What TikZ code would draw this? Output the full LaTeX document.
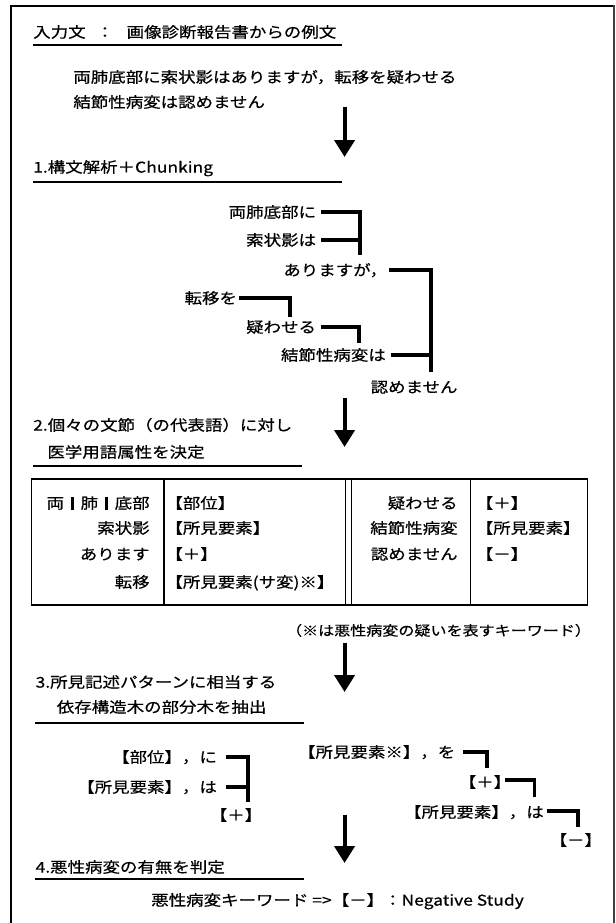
\documentclass[tikz,border=0pt]{standalone}
\usepackage{fontspec}
\newfontfamily\jp[FakeStretch=1.18,FakeBold=0.6]{Noto Sans CJK JP}
\usetikzlibrary{arrows.meta,calc}
\newcommand{\sepbar}{\hspace{7pt}\rule[-1.5pt]{2.6pt}{13.5pt}\hspace{7pt}}
\begin{document}
\begin{tikzpicture}[x=1.18pt,y=-1pt,
  txt/.style={font=\jp\fontsize{14.8}{16}\selectfont, inner sep=0pt, text height=13pt, text depth=1.8pt},
  tree/.style={line width=3.8pt},
  rulel/.style={line width=1.3pt},
  gridl/.style={line width=1.2pt},
  flow/.style={line width=4pt, -{Triangle[width=20pt,length=17pt]}}]
\useasboundingbox (0,0) rectangle (522.03,923);
% frame
\draw[line width=1.2pt] (9.3,926) -- (9.3,6) -- (520.3,6);
\draw[line width=2.2pt, black!75] (520.3,5.4) -- (520.3,926);

% input sentence
\node[txt, anchor=west] (h0) at (28,32) {入力文\hspace{10.6pt}：\hspace{13pt}画像診断報告書からの例文};
\draw[rulel] (28,45) -- (290,45);
\node[txt, anchor=west] (s1) at (62,77) {両肺底部に索状影はありますが，転移を疑わせる};
\node[txt, anchor=west] (s2) at (62,102) {結節性病変は認めません};
\coordinate (a1s) at (292,107); \coordinate (a1e) at (292,157);
\draw[flow] (a1s) -- (a1e);

% step 1
\node[txt, anchor=west] (h1) at (28,167) {1.構文解析＋Chunking};
\draw[rulel] (28,182) -- (290,182);
\node[txt, anchor=east] (n11) at (268,212) {両肺底部に};
\node[txt, anchor=east] (n12) at (268,240) {索状影は};
\node[txt, anchor=west] (n13) at (240,270) {ありますが，};
\node[txt, anchor=east] (n14) at (201,298) {転移を};
\node[txt, anchor=east] (n15) at (268,327) {疑わせる};
\node[txt, anchor=west] (n16) at (238,355) {結節性病変は};
\node[txt, anchor=west] (n17) at (314,387) {認めません};
\coordinate (j1) at (305,255);
\coordinate (j2) at (365,372);
\coordinate (j3) at (246,317);
\coordinate (j4) at (304,343);
\draw[tree] ([xshift=5pt]n11.east) -| (j1);
\draw[tree] ([xshift=5pt]n12.east) -- (n12.east -| j1);
\draw[tree] ([xshift=2pt]n13.east) -| (j2);
\draw[tree] ([xshift=5pt]n16.east) -- (n16.east -| j2);
\draw[tree] ([xshift=2pt]n14.east) -| (j3);
\draw[tree] ([xshift=5pt]n15.east) -| (j4);
\coordinate (a2s) at (292,398); \coordinate (a2e) at (292,447);
\draw[flow] (a2s) -- (a2e);

% step 2
\node[txt, anchor=west] (h2a) at (28,425) {2.個々の文節（の代表語）に対し};
\node[txt, anchor=west] (h2b) at (40,452) {医学用語属性を決定};
\draw[rulel] (28,466) -- (256,466);
\draw[gridl] (27,479) rectangle (498,605);
\draw[gridl] (139,479) -- (139,605);
\draw[gridl] (293,479) -- (293,605);
\draw[gridl] (298,479) -- (298,605);
\draw[gridl] (399,479) -- (399,605);
\node[txt, anchor=east] (t11) at (127,503) {両\sepbar 肺\sepbar 底部};
\node[txt, anchor=east] (t12) at (127,528) {索状影};
\node[txt, anchor=east] (t13) at (127,554) {あります};
\node[txt, anchor=east] (t14) at (127,582) {転移};
\node[txt, anchor=west] (t21) at (140,503) {【部位】};
\node[txt, anchor=west] (t22) at (140,528) {【所見要素】};
\node[txt, anchor=west] (t23) at (140,554) {【＋】};
\node[txt, anchor=west] (t24) at (140,582) {【所見要素(サ変)※】};
\node[txt, anchor=east] (t31) at (388,503) {疑わせる};
\node[txt, anchor=east] (t32) at (388,528) {結節性病変};
\node[txt, anchor=east] (t33) at (388,554) {認めません};
\node[txt, anchor=west] (t41) at (403,503) {【＋】};
\node[txt, anchor=west] (t42) at (403,528) {【所見要素】};
\node[txt, anchor=west] (t43) at (403,554) {【－】};
\node[txt, anchor=east, font=\jp\fontsize{13.6}{15}\selectfont] (note) at (501,630) {（※は悪性病変の疑いを表すキーワード）};
\coordinate (a3s) at (292,643); \coordinate (a3e) at (292,692);
\draw[flow] (a3s) -- (a3e);

% step 3
\node[txt, anchor=west] (h3a) at (30,682) {3.所見記述パターンに相当する};
\node[txt, anchor=west] (h3b) at (48,707) {依存構造木の部分木を抽出};
\draw[rulel] (30,723) -- (258,723);
\node[txt, anchor=east] (m1) at (184,757) {【部位】，に};
\node[txt, anchor=east] (m2) at (184,787) {【所見要素】，は};
\node[txt] (m3) at (200,815) {【＋】};
\coordinate (k1) at (210,802);
\draw[tree] ([xshift=9pt]m1.east) -| (k1);
\draw[tree] ([xshift=9pt]m2.east) -- (m2.east -| k1);
\node[txt, anchor=east] (r1) at (386,752) {【所見要素※】，を};
\node[txt] (r2) at (411,782) {【＋】};
\node[txt, anchor=east] (r3) at (461,812) {【所見要素】，は};
\node[txt] (r4) at (488,840) {【－】};
\coordinate (k2) at (413,768);
\coordinate (k3) at (453,797);
\coordinate (k4) at (490,827);
\draw[tree] ([xshift=8pt]r1.east) -| (k2);
\draw[tree] ([xshift=-6pt,yshift=2pt]r2.east) -| (k3);
\draw[tree] ([xshift=3pt,yshift=1pt]r3.east) -| (k4);
\coordinate (a4s) at (292,815); \coordinate (a4e) at (292,863);
\draw[flow] (a4s) -- (a4e);

% step 4
\node[txt, anchor=west] (h4) at (30,867) {4.悪性病変の有無を判定};
\draw[rulel] (30,879) -- (258,879);
\node[txt, anchor=west] (res) at (128,900) {悪性病変キーワード =>【－】：Negative Study};
\end{tikzpicture}
\end{document}
